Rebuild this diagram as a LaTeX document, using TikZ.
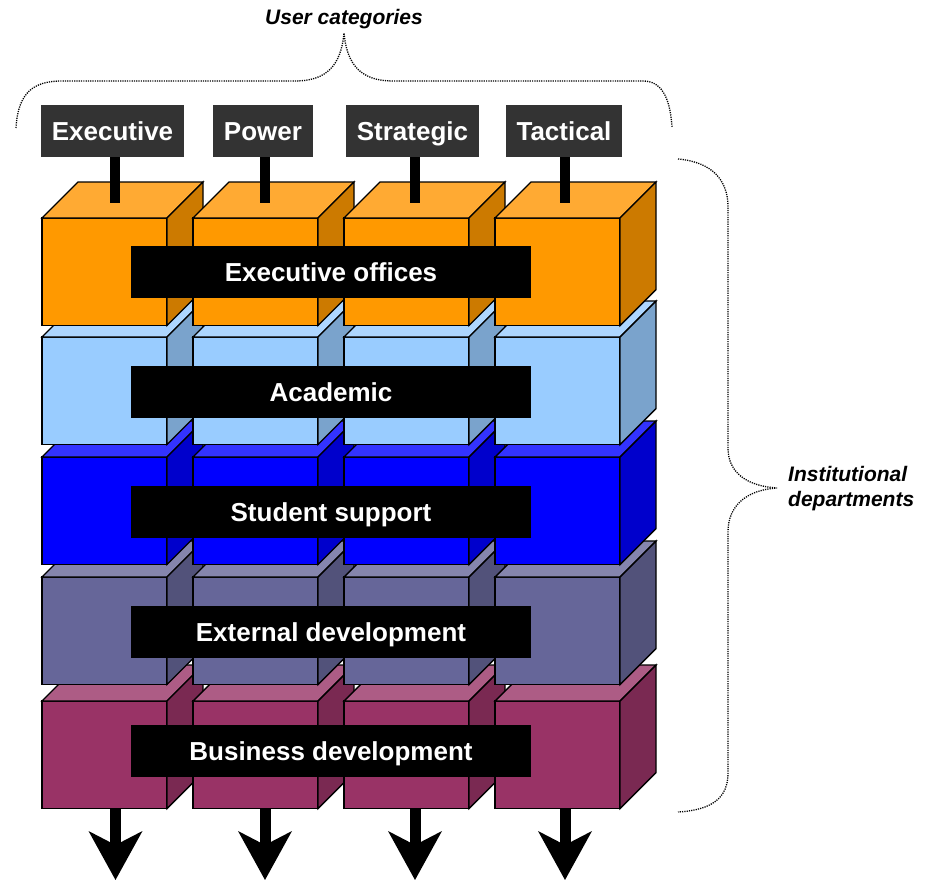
\documentclass[tikz,border=0pt]{standalone}
\usepackage{fontspec}
\setmainfont{Liberation Sans}
\usetikzlibrary{arrows.meta}

% face colours: front / top / side of each department row
\definecolor{orFront}{HTML}{FF9900}\definecolor{orTop}{HTML}{FFAA33}\definecolor{orSide}{HTML}{CC7A00}
\definecolor{lbFront}{HTML}{99CCFF}\definecolor{lbTop}{HTML}{ADD6FF}\definecolor{lbSide}{HTML}{7AA3CC}
\definecolor{blFront}{HTML}{0000FF}\definecolor{blTop}{HTML}{3333FF}\definecolor{blSide}{HTML}{0000CC}
\definecolor{slFront}{HTML}{666699}\definecolor{slTop}{HTML}{8585AD}\definecolor{slSide}{HTML}{52527A}
\definecolor{mrFront}{HTML}{993366}\definecolor{mrTop}{HTML}{AD5C85}\definecolor{mrSide}{HTML}{7A2952}
\definecolor{catgray}{HTML}{333333}

\tikzset{
  cubeedge/.style={draw=black, line width=1.4pt, line join=miter},
  % capitals sit centred in the box, descenders hang below
  boxtext/.style={text height=24pt, text depth=5.4pt,
    font=\fontsize{26}{30}\selectfont\bfseries, text=white},
  deptbar/.style={boxtext, fill=black, minimum width=400pt, minimum height=52pt,
    inner sep=0pt},
  catbox/.style={boxtext, fill=catgray, minimum height=52pt, inner xsep=11pt,
    inner ysep=0pt},
  stem/.style={line width=10.5pt, black},
  flowout/.style={line width=11pt, black,
    -{Stealth[length=49pt, width=54pt, inset=14pt, line width=0pt]}},
  bracedots/.style={line width=1.3pt, dash pattern=on 1.2pt off 1.1pt},
  heading/.style={font=\fontsize{21}{25}\selectfont\bfseries\itshape, inner sep=0pt}
}

\begin{document}
\begin{tikzpicture}[x=1pt, y=-1pt]
\useasboundingbox (0,0) rectangle (934,880);

% department rows, drawn from the bottom row upwards so upper cubes overlap lower tops
\foreach \T/\fc/\tc/\sc in {701/mrFront/mrTop/mrSide, 577/slFront/slTop/slSide,
    457/blFront/blTop/blSide, 337/lbFront/lbTop/lbSide, 218/orFront/orTop/orSide}{
  \foreach \x in {42,193,344,495}{
    \filldraw[cubeedge, fill=\fc] (\x,\T) rectangle ++(125,107.5);
    \filldraw[cubeedge, fill=\tc] (\x,\T) -- ++(36,-36) -- ++(125,0) -- ++(-36,36) -- cycle;
    \filldraw[cubeedge, fill=\sc] (\x+125,\T) -- ++(36,-36) -- ++(0,107.5) -- ++(-36,36) -- cycle;
  }
}

% department names
\node[deptbar] (exec) at (331,272) {Executive offices};
\node[deptbar] (acad) at (331,392) {Academic};
\node[deptbar] (stud) at (331,512) {Student support};
\node[deptbar] (extd) at (331,632) {External development};
\node[deptbar] (busd) at (331,751) {Business development};

% user categories
\node[catbox] (cExe) at (112.5,131) {Executive};
\node[catbox] (cPow) at (263,131) {Power};
\node[catbox] (cStr) at (412.5,131) {Strategic};
\node[catbox] (cTac) at (564,131) {Tactical};

\coordinate (s1) at (115,203);
\coordinate (s2) at (265,203);
\coordinate (s3) at (415,203);
\coordinate (s4) at (565,203);
\draw[stem] (cExe.south -| s1) -- (s1);
\draw[stem] (cPow.south -| s2) -- (s2);
\draw[stem] (cStr.south -| s3) -- (s3);
\draw[stem] (cTac.south -| s4) -- (s4);

% outflow arrows below the stack
\foreach \i/\x in {1/115.5,2/265,3/415,4/565}{
  \coordinate (b\i) at (\x,809);
  \coordinate (e\i) at (\x,880);
  \draw[flowout] (b\i) -- (e\i);
}

% headings and their braces
\node[heading] (ucat) at (344,19) {User categories};
\draw[bracedots] (16,128) .. controls (18,92) and (34,81) .. (62,81) -- (295,81)
  .. controls (326,81) and (341,66) .. (344,33)
  .. controls (347,66) and (362,81) .. (393,81) -- (643,81)
  .. controls (660,81) and (670,95) .. (672,127);

\node[heading, anchor=west, align=left] (inst) at (788,489) {Institutional\\departments};
\draw[bracedots] (678,159) .. controls (712,162) and (728,180) .. (728,207) -- (728,448)
  .. controls (728,472) and (746,486) .. (777,488)
  .. controls (746,490) and (728,506) .. (728,532) -- (728,773)
  .. controls (728,798) and (712,810) .. (678,812);
\end{tikzpicture}
\end{document}
